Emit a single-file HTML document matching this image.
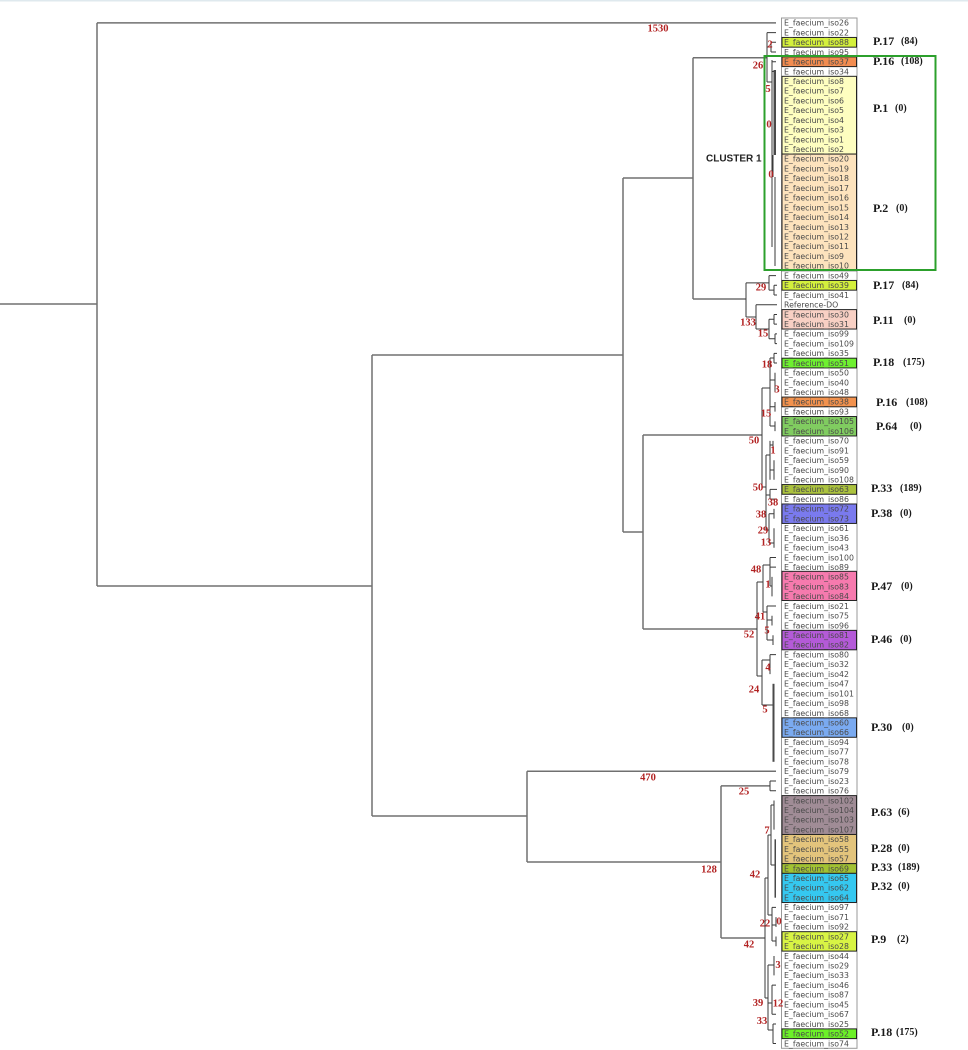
<!DOCTYPE html>
<html><head><meta charset="utf-8"><style>
html,body{margin:0;padding:0;background:#fff;}
svg{display:block;}
</style></head><body>
<svg width="968" height="1050" viewBox="0 0 968 1050" xmlns="http://www.w3.org/2000/svg">
<rect x="0" y="0" width="968" height="1050" fill="#fff"/>
<rect x="0" y="0" width="968" height="1.5" fill="#dfe9ee"/>

<!-- main tree -->
<g stroke="#707070" stroke-width="1.5" fill="none">
<path d="M0,304 H97 M97,22.86 V586 M97,22.86 H776 M97,586 H372 M372,355 V816 M372,355 H623 M623,178 V532 M623,178 H693 M693,57.7 V299 M693,57.7 H767 M693,299 H746 M623,532 H643 M643,435 V629 M643,435 H762 M643,629 H757 M372,816 H527 M527,771.3 V862 M527,771.3 H776 M527,862 H721 M721,785.9 V938 M721,785.9 H770 M721,938 H765"/>
</g>

<!-- fine tree -->
<g stroke="#3a3a3a" stroke-width="1" fill="none">
<path d="M767,32.58 V82 M767,32.58 H776 M767,47 H771 M771,42.3 V52.02 M771,42.3 H776 M771,52.02 H776 M767,82 H772 M772,60 V247 M772,61.74 H776 M772,71.46 H776"/>
<path d="M773,155 V177 M775,177 V266"/>
<path d="M746,282.9 V317 M746,282.9 H769 M769,275.58 V290.16 M769,275.58 H776 M769,290.16 H774 M774,285.3 V295.02 M774,285.3 H777 M774,295.02 H777 M746,317 H756 M756,304.74 V329 M756,304.74 H777 M756,329 H769 M769,319.3 V338.8 M769,319.3 H774 M774,314.46 V324.18 M774,314.46 H777 M774,324.18 H777 M769,338.8 H775 M775,333.9 V343.62 M775,333.9 H777 M775,343.62 H777"/>
<path d="M762,388 V487 M762,388 H770 M770,358 V426 M770,358 H774 M774,353.34 V363.06 M774,353.34 H777 M774,363.06 H777 M770,380 H775 M775,372.78 V392.22 M770,406.8 H775 M775,401.94 V411.66 M770,426 H775 M775,421.38 V431.1"/>
<path d="M762,487 H766 M766,455 V530 M766,455 H770 M770,440.82 V479.7 M770,445 H773 M773,440.82 V450.54 M770,470 H774 M774,460.26 V479.7 M766,495 H770 M770,489.42 V499.14 M770,489.42 H777 M770,499.14 H777 M766,530 H769 M769,513.7 V543 M769,513.7 H774 M774,508.86 V518.58 M769,543 H774 M774,528.3 V547.74"/>
<path d="M757,582 V676 M757,582 H763 M763,565 V612 M763,565 H770 M770,557.46 V586 M770,557.46 H776 M770,567.18 H776 M770,586 H772 M772,576.9 V596.34 M763,612 H767 M767,606.06 V640 M767,606.06 H776 M767,620 H772 M772,615.78 V625.5 M767,640 H773 M773,635.22 V644.94"/>
<path d="M757,676 H762 M762,660 V705 M762,660 H770 M770,654.66 V674.1 M770,654.66 H776 M762,705 H773"/>
<path d="M770,781.02 V790.74 M770,781.02 H776 M770,790.74 H776"/>
<path d="M765,878 V998 M765,878 H768 M768,835 V915 M768,835 H771 M771,805 V865 M771,805 H774 M774,800.46 V829.62 M771,865 H775 M768,915 H772 M772,907.38 V941 M772,907.38 H776 M772,925 H776 M776,917.1 V926.82 M772,941 H776 M776,936.54 V946.26"/>
<path d="M765,998 H768 M768,965 V1030 M768,965 H774 M774,955.98 V975.42 M768,1003 H772 M772,985.14 V1014.3 M772,985.14 H776 M772,1014.3 H776 M768,1030 H773 M773,1024.02 V1043.46 M773,1024.02 H776 M773,1043.46 H776"/>
</g>
<g fill="#4a4a4a">
<rect x="773.5" y="70" width="2.5" height="85"/>
<rect x="772.5" y="683.8" width="2" height="78"/>
<rect x="774.5" y="839.3" width="1.5" height="58.4"/>
</g>

<!-- label box -->
<rect x="781.5" y="18" width="75.5" height="1030.3" fill="#fff" stroke="#999" stroke-width="1"/>
<g stroke="#222" stroke-width="1">
<rect x="782" y="37.44" width="74.5" height="9.72" fill="#d4f03c"/>
<rect x="782" y="56.88" width="74.5" height="9.72" fill="#f28c50"/>
<rect x="782" y="76.32" width="74.5" height="77.76" fill="#fefec0"/>
<rect x="782" y="154.08" width="74.5" height="116.64" fill="#fde3bd"/>
<rect x="782" y="280.44" width="74.5" height="9.72" fill="#d4f03c"/>
<rect x="782" y="309.6" width="74.5" height="19.44" fill="#f8d0c4"/>
<rect x="782" y="358.2" width="74.5" height="9.72" fill="#6ef030"/>
<rect x="782" y="397.08" width="74.5" height="9.72" fill="#f2924e"/>
<rect x="782" y="416.52" width="74.5" height="19.44" fill="#80cc60"/>
<rect x="782" y="484.56" width="74.5" height="9.72" fill="#abc23e"/>
<rect x="782" y="504" width="74.5" height="19.44" fill="#7a7aee"/>
<rect x="782" y="571.32" width="74.5" height="29.16" fill="#f67aae"/>
<rect x="782" y="630.36" width="74.5" height="19.44" fill="#b45ad8"/>
<rect x="782" y="717.84" width="74.5" height="19.44" fill="#7aaaf0"/>
<rect x="782" y="795.6" width="74.5" height="38.88" fill="#a08c96"/>
<rect x="782" y="834.48" width="74.5" height="29.16" fill="#e3c47c"/>
<rect x="782" y="863.64" width="74.5" height="9.72" fill="#a2c232"/>
<rect x="782" y="873.36" width="74.5" height="29.16" fill="#35c8f0"/>
<rect x="782" y="931.68" width="74.5" height="19.44" fill="#d8f444"/>
<rect x="782" y="1028.88" width="74.5" height="9.72" fill="#6cf028"/>
</g>

<g font-family="'DejaVu Sans', 'Liberation Sans', sans-serif" font-size="7.8" fill="#4a4a4a">
<text x="784" y="25.66">E_faecium_iso26</text>
<text x="784" y="35.38">E_faecium_iso22</text>
<text x="784" y="45.10">E_faecium_iso88</text>
<text x="784" y="54.82">E_faecium_iso95</text>
<text x="784" y="64.54">E_faecium_iso37</text>
<text x="784" y="74.26">E_faecium_iso34</text>
<text x="784" y="83.98">E_faecium_iso8</text>
<text x="784" y="93.70">E_faecium_iso7</text>
<text x="784" y="103.42">E_faecium_iso6</text>
<text x="784" y="113.14">E_faecium_iso5</text>
<text x="784" y="122.86">E_faecium_iso4</text>
<text x="784" y="132.58">E_faecium_iso3</text>
<text x="784" y="142.30">E_faecium_iso1</text>
<text x="784" y="152.02">E_faecium_iso2</text>
<text x="784" y="161.74">E_faecium_iso20</text>
<text x="784" y="171.46">E_faecium_iso19</text>
<text x="784" y="181.18">E_faecium_iso18</text>
<text x="784" y="190.90">E_faecium_iso17</text>
<text x="784" y="200.62">E_faecium_iso16</text>
<text x="784" y="210.34">E_faecium_iso15</text>
<text x="784" y="220.06">E_faecium_iso14</text>
<text x="784" y="229.78">E_faecium_iso13</text>
<text x="784" y="239.50">E_faecium_iso12</text>
<text x="784" y="249.22">E_faecium_iso11</text>
<text x="784" y="258.94">E_faecium_iso9</text>
<text x="784" y="268.66">E_faecium_iso10</text>
<text x="784" y="278.38">E_faecium_iso49</text>
<text x="784" y="288.10">E_faecium_iso39</text>
<text x="784" y="297.82">E_faecium_iso41</text>
<text x="784" y="307.54">Reference-DO</text>
<text x="784" y="317.26">E_faecium_iso30</text>
<text x="784" y="326.98">E_faecium_iso31</text>
<text x="784" y="336.70">E_faecium_iso99</text>
<text x="784" y="346.42">E_faecium_iso109</text>
<text x="784" y="356.14">E_faecium_iso35</text>
<text x="784" y="365.86">E_faecium_iso51</text>
<text x="784" y="375.58">E_faecium_iso50</text>
<text x="784" y="385.30">E_faecium_iso40</text>
<text x="784" y="395.02">E_faecium_iso48</text>
<text x="784" y="404.74">E_faecium_iso38</text>
<text x="784" y="414.46">E_faecium_iso93</text>
<text x="784" y="424.18">E_faecium_iso105</text>
<text x="784" y="433.90">E_faecium_iso106</text>
<text x="784" y="443.62">E_faecium_iso70</text>
<text x="784" y="453.34">E_faecium_iso91</text>
<text x="784" y="463.06">E_faecium_iso59</text>
<text x="784" y="472.78">E_faecium_iso90</text>
<text x="784" y="482.50">E_faecium_iso108</text>
<text x="784" y="492.22">E_faecium_iso63</text>
<text x="784" y="501.94">E_faecium_iso86</text>
<text x="784" y="511.66">E_faecium_iso72</text>
<text x="784" y="521.38">E_faecium_iso73</text>
<text x="784" y="531.10">E_faecium_iso61</text>
<text x="784" y="540.82">E_faecium_iso36</text>
<text x="784" y="550.54">E_faecium_iso43</text>
<text x="784" y="560.26">E_faecium_iso100</text>
<text x="784" y="569.98">E_faecium_iso89</text>
<text x="784" y="579.70">E_faecium_iso85</text>
<text x="784" y="589.42">E_faecium_iso83</text>
<text x="784" y="599.14">E_faecium_iso84</text>
<text x="784" y="608.86">E_faecium_iso21</text>
<text x="784" y="618.58">E_faecium_iso75</text>
<text x="784" y="628.30">E_faecium_iso96</text>
<text x="784" y="638.02">E_faecium_iso81</text>
<text x="784" y="647.74">E_faecium_iso82</text>
<text x="784" y="657.46">E_faecium_iso80</text>
<text x="784" y="667.18">E_faecium_iso32</text>
<text x="784" y="676.90">E_faecium_iso42</text>
<text x="784" y="686.62">E_faecium_iso47</text>
<text x="784" y="696.34">E_faecium_iso101</text>
<text x="784" y="706.06">E_faecium_iso98</text>
<text x="784" y="715.78">E_faecium_iso68</text>
<text x="784" y="725.50">E_faecium_iso60</text>
<text x="784" y="735.22">E_faecium_iso66</text>
<text x="784" y="744.94">E_faecium_iso94</text>
<text x="784" y="754.66">E_faecium_iso77</text>
<text x="784" y="764.38">E_faecium_iso78</text>
<text x="784" y="774.10">E_faecium_iso79</text>
<text x="784" y="783.82">E_faecium_iso23</text>
<text x="784" y="793.54">E_faecium_iso76</text>
<text x="784" y="803.26">E_faecium_iso102</text>
<text x="784" y="812.98">E_faecium_iso104</text>
<text x="784" y="822.70">E_faecium_iso103</text>
<text x="784" y="832.42">E_faecium_iso107</text>
<text x="784" y="842.14">E_faecium_iso58</text>
<text x="784" y="851.86">E_faecium_iso55</text>
<text x="784" y="861.58">E_faecium_iso57</text>
<text x="784" y="871.30">E_faecium_iso69</text>
<text x="784" y="881.02">E_faecium_iso65</text>
<text x="784" y="890.74">E_faecium_iso62</text>
<text x="784" y="900.46">E_faecium_iso64</text>
<text x="784" y="910.18">E_faecium_iso97</text>
<text x="784" y="919.90">E_faecium_iso71</text>
<text x="784" y="929.62">E_faecium_iso92</text>
<text x="784" y="939.34">E_faecium_iso27</text>
<text x="784" y="949.06">E_faecium_iso28</text>
<text x="784" y="958.78">E_faecium_iso44</text>
<text x="784" y="968.50">E_faecium_iso29</text>
<text x="784" y="978.22">E_faecium_iso33</text>
<text x="784" y="987.94">E_faecium_iso46</text>
<text x="784" y="997.66">E_faecium_iso87</text>
<text x="784" y="1007.38">E_faecium_iso45</text>
<text x="784" y="1017.10">E_faecium_iso67</text>
<text x="784" y="1026.82">E_faecium_iso25</text>
<text x="784" y="1036.54">E_faecium_iso52</text>
<text x="784" y="1046.26">E_faecium_iso74</text>
</g>

<!-- green cluster box -->
<rect x="764.5" y="56" width="171" height="214" fill="none" stroke="#2ca02c" stroke-width="2"/>

<!-- cluster label -->
<text x="706" y="161.6" font-family="'Liberation Sans', sans-serif" font-weight="bold" font-size="10" fill="#222">CLUSTER 1</text>

<!-- branch distance numbers -->
<g font-family="'Liberation Serif', serif" font-weight="bold" font-size="10.5" fill="#b22222" text-anchor="middle">
<text x="658" y="31.5">1530</text>
<text x="770" y="47.5">2</text>
<text x="758" y="68.5">26</text>
<text x="768" y="92">5</text>
<text x="769" y="127.5">0</text>
<text x="771" y="177.5">0</text>
<text x="761" y="290.5">29</text>
<text x="748" y="325.5">133</text>
<text x="763" y="336.5">15</text>
<text x="767" y="367.5">18</text>
<text x="777" y="392.5">3</text>
<text x="766" y="416.5">15</text>
<text x="754" y="443.5">50</text>
<text x="773" y="453.5">1</text>
<text x="758" y="490.5">50</text>
<text x="773" y="505.5">38</text>
<text x="761" y="517.5">38</text>
<text x="763" y="533.5">29</text>
<text x="766" y="545.5">13</text>
<text x="756" y="572.5">48</text>
<text x="768" y="587.5">1</text>
<text x="760" y="619.5">41</text>
<text x="767" y="633.5">5</text>
<text x="749" y="637.5">52</text>
<text x="768" y="670.5">4</text>
<text x="754" y="692.5">24</text>
<text x="765" y="712.5">5</text>
<text x="648" y="780.5">470</text>
<text x="744" y="794.5">25</text>
<text x="709" y="872.5">128</text>
<text x="767" y="833.5">7</text>
<text x="755" y="877.5">42</text>
<text x="765" y="926.5">22</text>
<text x="779" y="924.5">0</text>
<text x="749" y="947.5">42</text>
<text x="778" y="968">3</text>
<text x="758" y="1006">39</text>
<text x="778" y="1006.5">12</text>
<text x="762" y="1024">33</text>
</g>

<!-- P labels -->
<g font-family="'Liberation Serif', serif" font-weight="bold" fill="#1a1a1a">
<text x="873" y="45" font-size="12">P.17</text><text x="901" y="44" font-size="10">(84)</text>
<text x="873" y="65" font-size="12">P.16</text><text x="901" y="64" font-size="10">(108)</text>
<text x="873" y="112" font-size="12">P.1</text><text x="895" y="111" font-size="10">(0)</text>
<text x="873" y="212" font-size="12">P.2</text><text x="896" y="211" font-size="10">(0)</text>
<text x="873" y="289" font-size="12">P.17</text><text x="902" y="288" font-size="10">(84)</text>
<text x="873" y="324" font-size="12">P.11</text><text x="904" y="323" font-size="10">(0)</text>
<text x="873" y="366" font-size="12">P.18</text><text x="903" y="365" font-size="10">(175)</text>
<text x="876" y="406" font-size="12">P.16</text><text x="906" y="405" font-size="10">(108)</text>
<text x="876" y="430" font-size="12">P.64</text><text x="910" y="429" font-size="10">(0)</text>
<text x="871" y="492" font-size="12">P.33</text><text x="900" y="491" font-size="10">(189)</text>
<text x="871" y="517" font-size="12">P.38</text><text x="900" y="516" font-size="10">(0)</text>
<text x="871" y="590" font-size="12">P.47</text><text x="901" y="589" font-size="10">(0)</text>
<text x="871" y="643" font-size="12">P.46</text><text x="900" y="642" font-size="10">(0)</text>
<text x="871" y="731" font-size="12">P.30</text><text x="902" y="730" font-size="10">(0)</text>
<text x="871" y="816" font-size="12">P.63</text><text x="898" y="815" font-size="10">(6)</text>
<text x="871" y="852" font-size="12">P.28</text><text x="898" y="851" font-size="10">(0)</text>
<text x="871" y="871" font-size="12">P.33</text><text x="898" y="870" font-size="10">(189)</text>
<text x="871" y="890" font-size="12">P.32</text><text x="898" y="889" font-size="10">(0)</text>
<text x="871" y="943" font-size="12">P.9</text><text x="897" y="942" font-size="10">(2)</text>
<text x="871" y="1036" font-size="12">P.18</text><text x="896" y="1035" font-size="10">(175)</text>
</g>
</svg>
</body></html>
